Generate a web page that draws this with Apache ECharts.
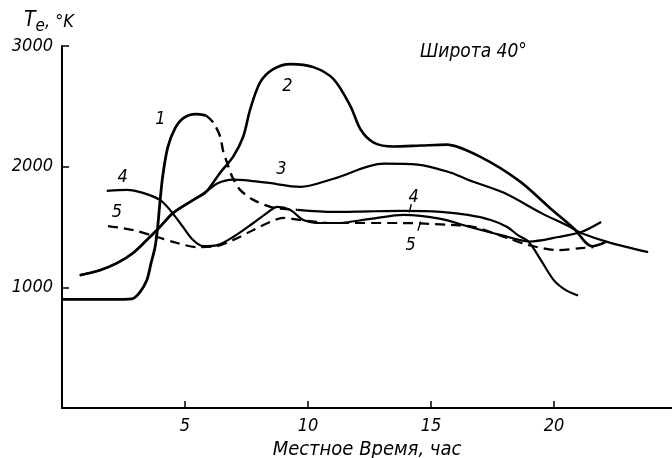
<!DOCTYPE html>
<html><head><meta charset="utf-8">
<script src="https://cdn.jsdelivr.net/npm/echarts@6/dist/echarts.min.js"></script>
<style>html,body{margin:0;padding:0;background:#fff}#c{width:672px;height:458px}</style>
</head><body><div id="c"></div>
<script>
// ---- data (x = local time, hours; y = Te, K) ----
const xTickValues = [5, 10, 15, 20];
const yTickValues = [1000, 2000, 3000];

const curve1Solid = [[0,900],[1,900],[2,900],[2.85,905],[3.17,960],[3.45,1060],[3.62,1200],[3.78,1330],[3.88,1480],[3.98,1700],[4.1,1930],[4.3,2160],[4.6,2320],[4.95,2405],[5.45,2435],[5.85,2425]];
const curve1Dashed = [[5.85,2425],[6.15,2365],[6.43,2250],[6.55,2130],[6.71,2033],[6.92,1917],[7.24,1808],[7.78,1725],[8.47,1667],[9.0,1650],[9.57,1642]];
const curve1Late = [[9.57,1642],[11.04,1625],[12.5,1630],[13.89,1633],[15.4,1625],[16.5,1600],[17.43,1558],[18.1,1500],[18.53,1433],[18.98,1375],[19.47,1225],[20.0,1058],[20.5,975],[20.98,933]];

const sharedStart = [[0.72,1100],[1.54,1142],[2.23,1200],[2.88,1283],[3.45,1392],[3.98,1500],[4.52,1617],[5.34,1725],[5.85,1790]];
const curve2 = sharedStart.concat([[6.43,1950],[6.96,2083],[7.37,2250],[7.65,2475],[8.06,2700],[8.59,2808],[9.28,2850],[10.22,2825],[11.04,2725],[11.73,2500],[12.14,2308],[12.67,2200],[13.48,2167],[14.58,2175],[15.64,2183],[16.99,2083],[18.6,1880],[19.88,1650],[20.8,1490],[21.55,1340],[22.1,1375]]);
const curve3 = sharedStart.concat([[6.31,1860],[6.96,1892],[7.65,1883],[8.34,1867],[9.69,1833],[11.04,1900],[13.07,2025],[14.46,2017],[15.81,1950],[16.5,1892],[17.97,1783],[19.47,1617],[20.66,1500],[21.1,1450],[22.2,1375],[23.83,1292]]);
const curve4 = [[1.82,1800],[2.64,1808],[3.29,1783],[3.98,1725],[4.39,1642],[4.92,1500],[5.33,1392],[5.74,1342],[6.31,1350],[6.96,1417],[7.78,1533],[8.34,1617],[8.75,1667],[9.28,1642],[9.81,1558],[10.5,1533],[11.16,1533],[12.54,1567],[13.89,1600],[15.4,1567],[16.58,1500],[17.85,1433],[19.0,1380],[20.17,1417],[21.1,1458],[21.92,1542]];
const curve5 = [[1.87,1508],[2.88,1475],[3.86,1417],[4.68,1367],[5.49,1333],[6.31,1342],[6.96,1392],[7.78,1475],[8.47,1542],[9.0,1575],[9.69,1558],[11.04,1533],[13.76,1533],[15.8,1517],[16.75,1500],[18.12,1408],[18.98,1350],[20.17,1308],[21.1,1325],[21.6,1333]];

const xTitle = 'Местное Время, час';
const yTitle = 'T';
const ySub = 'e';
const yUnit = ', °K';
const note = 'Широта 40°';

// ---- chart ----
const FONT = "'DejaVu Sans Condensed','Liberation Sans Narrow','DejaVu Sans',sans-serif";
const chart = echarts.init(document.getElementById('c'), null, {renderer:'canvas'});

function line(name, data, dashed, width){
  return {
    name, type:'line', data, smooth:0.3, symbol:'none', silent:true,
    lineStyle:{color:'#000', width:width||2.2, type: dashed ? [10,6] : 'solid'},
    z: 3
  };
}
const lblStyle = {fontFamily:FONT, fontStyle:'italic', fontSize:18, color:'#000'};
function ann(text, coord){
  return {coord, value:text, symbol:'circle', symbolSize:0,
    label:{show:true, position:'inside', formatter:text, ...lblStyle}};
}

const s3 = line('3', curve3, false);
s3.markPoint = {silent:true, data:[
  ann('1',[4.0,2392]), ann('2',[9.16,2667]), ann('3',[8.92,1975]),
  ann('4',[2.47,1908]), ann('5',[2.23,1625]),
  ann('4',[14.3,1750]), ann('5',[14.17,1350])
]};
s3.markLine = {silent:true, symbol:'none', label:{show:false},
  lineStyle:{color:'#000', width:1.4, type:'solid'},
  data:[
    [{coord:[14.2,1690]},{coord:[14.12,1620]}],
    [{coord:[14.47,1470]},{coord:[14.58,1545]}]
  ]};

chart.setOption({
  animation:false,
  backgroundColor:'#fff',
  grid:{left:62, top:46, right:0, bottom:50, containLabel:false, outerBoundsMode:'none'},
  xAxis:{
    type:'value', min:0, max:24.8, interval:5,
    axisLine:{show:true, lineStyle:{color:'#000', width:2}},
    axisTick:{show:true, inside:true, length:7, lineStyle:{color:'#000', width:1.5}, customValues:xTickValues},
    axisLabel:{show:true, customValues:xTickValues, margin:9, formatter:v=>String(v), ...lblStyle, fontSize:18},
    splitLine:{show:false},
    name:xTitle, nameLocation:'middle', nameGap:26,
    nameTextStyle:{...lblStyle, fontSize:20, lineHeight:20}
  },
  yAxis:{
    type:'value', min:0, max:3000, interval:1000,
    axisLine:{show:true, lineStyle:{color:'#000', width:2}},
    axisTick:{show:true, inside:true, length:7, lineStyle:{color:'#000', width:1.5}, customValues:yTickValues},
    axisLabel:{show:true, customValues:yTickValues, margin:9, formatter:v=>String(v), ...lblStyle, fontSize:18},
    splitLine:{show:false},
    name:'{t|'+yTitle+'}{s|'+ySub+'}{n|'+yUnit+'}', nameLocation:'end', nameGap:11,
    nameTextStyle:{align:'center', padding:[0,26,0,0],
      rich:{
        t:{fontFamily:FONT, fontStyle:'italic', fontSize:21, color:'#000', verticalAlign:'bottom', padding:[0,0,4,0]},
        s:{fontFamily:FONT, fontStyle:'italic', fontSize:17, color:'#000', verticalAlign:'bottom'},
        n:{fontFamily:FONT, fontStyle:'italic', fontSize:18, color:'#000', verticalAlign:'bottom', padding:[0,0,4,0]}
      }}
  },
  graphic:[{type:'text', left:420, top:43, silent:true,
    style:{text:note, fontFamily:FONT, fontStyle:'italic', fontSize:19, fill:'#000'}}],
  series:[
    line('1', curve1Solid, false, 2.8),
    line('1b', curve1Dashed, true, 2.4),
    line('1c', curve1Late, false, 2.2),
    line('2', curve2, false, 2.6),
    s3,
    line('4', curve4, false, 2.2),
    line('5', curve5, true, 2.2)
  ]
});
</script></body></html>
